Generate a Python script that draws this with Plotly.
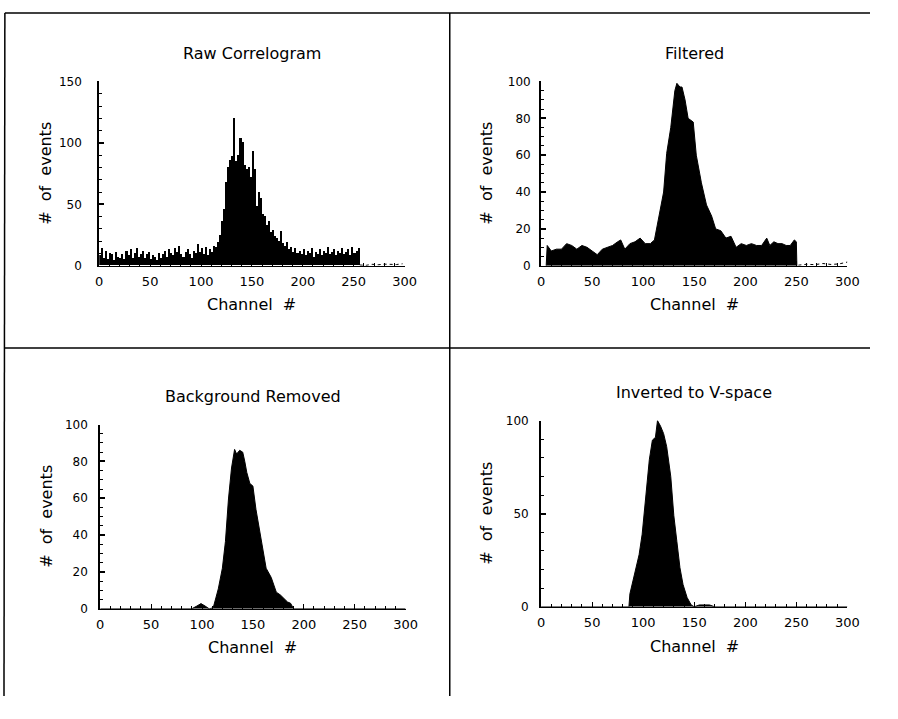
import plotly.graph_objects as go

# page is 898x719; the html body has an 8px margin, so the figure is sized to fit inside
PAGE_W, PAGE_H = 898, 719
OFF = 8
W, H = PAGE_W - 2 * OFF, PAGE_H - 2 * OFF

# ---------------- data ----------------
# Raw correlogram: counts in 2-channel bins, channels 0..254
raw_counts = [
    8, 14, 6, 12, 5, 10, 9, 4, 11, 7, 6,
    9, 5, 12, 8, 13, 6, 10, 14, 7, 9,
    12, 6, 9, 11, 5, 8, 7, 4, 10, 6,
    9, 12, 7, 13, 10, 8, 14, 11, 16, 9,
    7, 11, 13, 9, 6, 12, 10, 17, 11, 14,
    9, 15, 8, 13, 11, 16, 15, 19, 25, 36,
    46, 68, 80, 86, 89, 120, 85, 90, 104, 100,
    82, 78, 80, 72, 93, 78, 48, 60, 55, 42,
    40, 33, 36, 27, 29, 24, 22, 20, 28, 18,
    16, 19, 13, 15, 11, 14, 10, 12, 9, 13,
    8, 12, 10, 14, 7, 11, 9, 13, 8, 12,
    10, 15, 9, 11, 13, 8, 12, 10, 14, 9,
    11, 13, 8, 15, 10, 12, 14,
]
raw_channels = [2 * i + 1 for i in range(len(raw_counts))]
raw_tail_ch = [256, 262, 268, 274, 280, 286, 292, 298]
raw_tail_val = [0.6, 0.3, 1.2, 0.8, 1.3, 0.9, 1.0, 1.6]

# Filtered
filt_ch = [5, 6, 10, 15, 20, 25, 30, 35, 40, 45, 50, 55, 60, 65, 70, 75, 78, 82,
           87, 92, 97, 102, 107, 111, 115, 120, 123, 127, 131, 133, 136, 138, 141,
           144, 149, 152, 157, 162, 167, 171, 176, 181, 186, 191, 196, 201, 206,
           211, 216, 221, 224, 228, 232, 236, 240, 244, 248, 250, 250.5]
filt_val = [0, 11, 8, 9, 9, 12, 11, 9, 11, 10, 8, 6, 9, 10, 11, 13, 14, 9,
            12, 13, 15, 12, 12, 14, 26, 40, 61, 75, 95, 99, 97, 97, 90,
            80, 78, 60, 45, 33, 27, 20, 19, 15, 16, 10, 12, 11, 12,
            11, 11, 15, 11, 13, 12, 12, 11, 11, 14, 13, 0]
filt_tail_ch = [252, 260, 268, 276, 284, 292, 300]
filt_tail_val = [0.3, 0.8, 0.6, 1.2, 0.7, 1.0, 2.0]

# Background removed
bg_ch = [0, 90, 95, 99, 103, 107, 111, 116, 120, 123, 126, 129, 132, 134, 137,
         140, 142, 144, 147, 150, 153, 158, 163, 168, 173, 177, 181, 184, 187,
         190, 300]
bg_val = [0, 0, 1.5, 2.8, 1.5, 0, 0.5, 10.8, 22, 36.5, 59.6, 76.4, 86.5, 84, 86,
          85, 80, 74, 68, 66.6, 54, 38, 22, 17, 9, 7.5, 5, 3.7, 3,
          0, 0]

# Inverted to V-space
inv_ch = [0, 86, 87, 91, 96, 99, 103, 106, 109, 112, 114, 117, 120, 123, 127,
          130, 133, 136, 139, 143, 147, 150, 155, 160, 165, 170, 300]
inv_val = [0, 0, 7, 16, 28, 39, 60, 79, 89.5, 91, 100, 97, 93, 86, 70,
           49, 35, 21, 12, 5, 1, 0, 1, 1.2, 1, 0, 0]

titles = ["Raw Correlogram", "Filtered", "Background Removed", "Inverted to V-space"]
x_ticks = [0, 50, 100, 150, 200, 250, 300]
y_ranges = [150, 100, 100, 100]
y_dticks = [50, 20, 20, 50]
y_minor = [10, 5, 5, 10]

# ---------------- layout geometry (page pixels) ----------------
# (x0, x1, ytop, ybottom) of each plot area
boxes = [(105, 416, 84, 272), (555, 867, 84, 272),
         (106, 417, 434, 622), (555, 867, 430, 620)]
ystandoff = [13, 6, 8, 8]

def fx(px):
    return (px - OFF) / W

def fy(py):
    return 1 - (py - OFF) / H

def clamp(v):
    return min(1.0, max(0.0, v))

FONT = "DejaVu Sans"
fig = go.Figure()

# traces
fig.add_trace(go.Bar(x=raw_channels, y=raw_counts, width=2, marker=dict(color="black", line=dict(width=0)),
                     xaxis="x", yaxis="y", showlegend=False))
fig.add_trace(go.Scatter(x=raw_tail_ch, y=raw_tail_val, mode="lines", line=dict(color="black", width=1, dash="dot"),
                         xaxis="x", yaxis="y", showlegend=False))

fig.add_trace(go.Scatter(x=filt_ch, y=filt_val, mode="lines", fill="tozeroy", fillcolor="black",
                         line=dict(color="black", width=1), xaxis="x2", yaxis="y2", showlegend=False))
fig.add_trace(go.Scatter(x=filt_tail_ch, y=filt_tail_val, mode="lines", line=dict(color="black", width=1, dash="dot"),
                         xaxis="x2", yaxis="y2", showlegend=False))

fig.add_trace(go.Scatter(x=bg_ch, y=bg_val, mode="lines", fill="tozeroy", fillcolor="black",
                         line=dict(color="black", width=1), xaxis="x3", yaxis="y3", showlegend=False))

fig.add_trace(go.Scatter(x=inv_ch, y=inv_val, mode="lines", fill="tozeroy", fillcolor="black",
                         line=dict(color="black", width=1), xaxis="x4", yaxis="y4", showlegend=False))

layout = dict(width=W, height=H, margin=dict(l=0, r=0, t=0, b=0),
              paper_bgcolor="white", plot_bgcolor="white", bargap=0,
              font=dict(family=FONT, color="black"))

annotations = []
for i, (x0, x1, yt, yb) in enumerate(boxes):
    n = "" if i == 0 else str(i + 1)
    layout["xaxis" + n] = dict(
        domain=[fx(x0), fx(x1)], range=[0, 300], anchor="y" + n,
        tickvals=x_ticks, ticks="inside", ticklen=5, tickwidth=1, tickcolor="black",
        minor=dict(ticks="inside", dtick=10, ticklen=3, tickcolor="black", tickwidth=1),
        showline=True, linecolor="black", linewidth=1, showgrid=False, zeroline=False,
        tickfont=dict(family=FONT, size=13, color="black"), ticklabelstandoff=4,
        fixedrange=True)
    layout["yaxis" + n] = dict(
        domain=[fy(yb), fy(yt)], range=[0, y_ranges[i]], anchor="x" + n,
        dtick=y_dticks[i], tick0=0, ticks="inside", ticklen=5, tickwidth=1.5, tickcolor="black",
        minor=dict(ticks="inside", dtick=y_minor[i], ticklen=3, tickcolor="black", tickwidth=1),
        showline=True, linecolor="black", linewidth=2, showgrid=False, zeroline=False,
        tickfont=dict(family=FONT, size=12, color="black"), ticklabelstandoff=ystandoff[i],
        fixedrange=True)
    cx = (x0 + x1) / 2
    annotations.append(dict(text=titles[i], x=fx(cx), y=fy(yt - 29), xref="paper", yref="paper",
                            showarrow=False, xanchor="center", yanchor="middle",
                            font=dict(family=FONT, size=16, color="black")))
    annotations.append(dict(text="Channel  #", x=fx(cx), y=fy(yb + 40), xref="paper", yref="paper",
                            showarrow=False, xanchor="center", yanchor="middle",
                            font=dict(family=FONT, size=16, color="black")))
    annotations.append(dict(text="#  of  events", x=fx(x0 - 55), y=fy((yt + yb) / 2), xref="paper", yref="paper",
                            showarrow=False, xanchor="center", yanchor="middle", textangle=-90,
                            font=dict(family=FONT, size=16, color="black")))

layout["annotations"] = annotations

# frame lines (page pixels)
frame = [
    (5, 14, 898, 14),
    (5, 14, 5, 719),
    (462, 14, 462, 719),
    (5, 356, 898, 356),
]
layout["shapes"] = [dict(type="line", xref="paper", yref="paper",
                         x0=clamp(fx(a)) + (0.001 if fx(a) <= 0 else 0), y0=clamp(fy(b)),
                         x1=clamp(fx(c)), y1=clamp(fy(d)),
                         line=dict(color="black", width=1.5)) for a, b, c, d in frame]

fig.update_layout(**layout)
fig.write_html("out.html")
